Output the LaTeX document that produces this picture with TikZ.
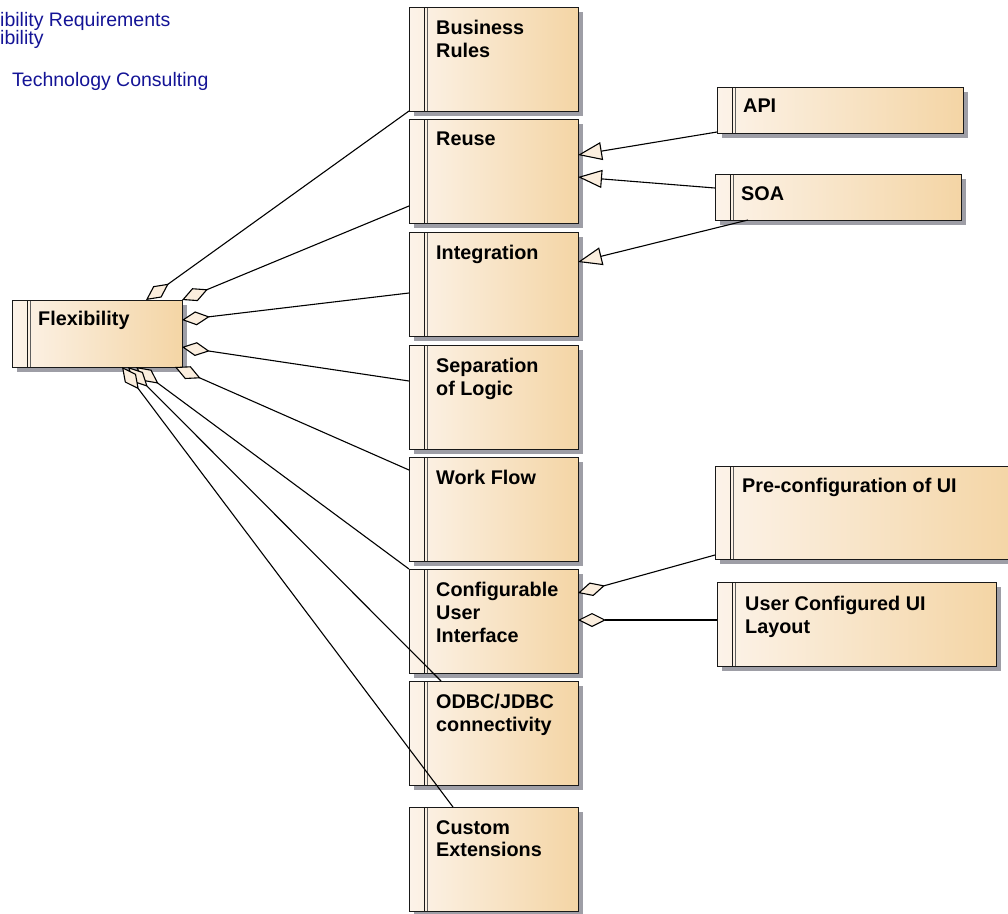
\documentclass[tikz,border=0pt]{standalone}
\usepackage{fontspec}
\setmainfont{Liberation Sans}
\usetikzlibrary{arrows.meta,shadows}
\definecolor{boxleft}{RGB}{252,243,233}
\definecolor{boxright}{RGB}{244,213,165}
\definecolor{boxline}{RGB}{25,25,25}
\definecolor{shadowgray}{RGB}{158,158,166}
\definecolor{tipfill}{RGB}{251,238,222}
\definecolor{headblue}{RGB}{20,20,150}

\begin{document}
\begin{tikzpicture}[x=1pt,y=-1pt,
  classbox/.style={draw=boxline,line width=0.9pt,left color=boxleft,right color=boxright,
    anchor=north west,inner sep=0pt,outer sep=0pt,
    drop shadow={shadow xshift=5pt,shadow yshift=-5pt,fill=shadowgray,opacity=1},
    path picture={
      \draw[boxline,line width=0.7pt] ([xshift=15pt]path picture bounding box.north west) -- ([xshift=15pt]path picture bounding box.south west);
      \draw[boxline!70,line width=0.7pt] ([xshift=18pt]path picture bounding box.north west) -- ([xshift=18pt]path picture bounding box.south west);}},
  midbox/.style={classbox,minimum width=169pt,minimum height=104pt},
  classlabel/.style={anchor=north west,inner sep=0pt,align=left,font=\fontsize{19.8}{22.8}\selectfont\bfseries},
  headtext/.style={anchor=base west,inner sep=0pt,text=headblue,font=\fontsize{19.5}{19.5}\selectfont},
  aggr/.style={{Diamond[length=28pt,width=14pt,fill=tipfill]}-,line width=1.1pt},
  gen/.style={-{Triangle[length=24pt,width=18pt,fill=tipfill]},line width=1.1pt}]
  \useasboundingbox (0,0) rectangle (1008,913);
  \clip (0,0) rectangle (1008,913);

  \node[headtext] (hd1) at (0,26) {ibility Requirements};
  \node[headtext] (hd2) at (0,44) {ibility};
  \node[headtext] (hd3) at (12,86) {Technology Consulting};

  \node[classbox,minimum width=170pt,minimum height=67pt] (flex) at (12,300) {};
  \node[classlabel] (flexl) at ([xshift=26pt,yshift=-11pt]flex.north west) {Flexibility};

  \node[midbox] (br) at (409,7) {};
  \node[classlabel] (brl) at ([xshift=27pt,yshift=-13pt]br.north west) {Business\\Rules};
  \node[midbox] (reuse) at (409,119) {};
  \node[classlabel] (reusel) at ([xshift=27pt,yshift=-13pt]reuse.north west) {Reuse};
  \node[midbox] (integ) at (409,232) {};
  \node[classlabel] (integl) at ([xshift=27pt,yshift=-13pt]integ.north west) {Integration};
  \node[midbox] (sep) at (409,345) {};
  \node[classlabel] (sepl) at ([xshift=27pt,yshift=-13pt]sep.north west) {Separation\\of Logic};
  \node[midbox] (wf) at (409,457) {};
  \node[classlabel] (wfl) at ([xshift=27pt,yshift=-13pt]wf.north west) {Work Flow};
  \node[midbox] (cui) at (409,569) {};
  \node[classlabel] (cuil) at ([xshift=27pt,yshift=-13pt]cui.north west) {Configurable\\User\\Interface};
  \node[midbox] (odbc) at (409,681) {};
  \node[classlabel] (odbcl) at ([xshift=27pt,yshift=-13pt]odbc.north west) {ODBC/JDBC\\connectivity};
  \node[midbox] (cust) at (409,807) {};
  \node[classlabel] (custl) at ([xshift=27pt,yshift=-13pt]cust.north west) {Custom\\Extensions};

  \node[classbox,minimum width=246pt,minimum height=46pt] (api) at (717,87) {};
  \node[classlabel] (apil) at ([xshift=26pt,yshift=-12pt]api.north west) {API};
  \node[classbox,minimum width=246pt,minimum height=46pt] (soa) at (715,174) {};
  \node[classlabel] (soal) at ([xshift=26pt,yshift=-12pt]soa.north west) {SOA};
  \node[classbox,minimum width=300pt,minimum height=93pt] (preui) at (715,466) {};
  \node[classlabel] (preuil) at ([xshift=27pt,yshift=-12pt]preui.north west) {Pre-configuration of UI};
  \node[classbox,minimum width=279pt,minimum height=84pt] (ucl) at (717,582) {};
  \node[classlabel] (ucll) at ([xshift=28pt,yshift=-14pt]ucl.north west) {User Configured UI\\Layout};

  % aggregations from Flexibility
  \draw[aggr] ([xshift=134pt]flex.north west) -- (br.south west);
  \draw[aggr] (flex.north east) -- ([yshift=17pt]reuse.south west);
  \draw[aggr] ([yshift=-20pt]flex.north east) -- ([yshift=-61pt]integ.north west);
  \draw[aggr] ([yshift=-47pt]flex.north east) -- ([yshift=-36pt]sep.north west);
  \draw[aggr] ([xshift=-7pt]flex.south east) -- ([yshift=-13pt]wf.north west);
  \draw[aggr] ([xshift=124pt]flex.south west) -- (cui.north west);
  \draw[aggr] ([xshift=116pt]flex.south west) -- ([xshift=32pt]odbc.north west);
  \draw[aggr] ([xshift=110pt]flex.south west) -- ([xshift=44pt]cust.north west);

  % generalizations
  \draw[gen] ([yshift=1pt]api.south west) -- ([yshift=-36pt]reuse.north east);
  \draw[gen] ([yshift=-14pt]soa.north west) -- ([yshift=-58pt]reuse.north east);
  \draw[gen] ([xshift=33pt]soa.south west) -- ([yshift=-30pt]integ.north east);

  % user interface parts
  \draw[aggr] ([yshift=-24pt]cui.north east) -- ([yshift=4pt]preui.south west);
  \draw[aggr] ([yshift=-51pt]cui.north east) -- ([yshift=-38pt]ucl.north west);
\end{tikzpicture}
\end{document}
